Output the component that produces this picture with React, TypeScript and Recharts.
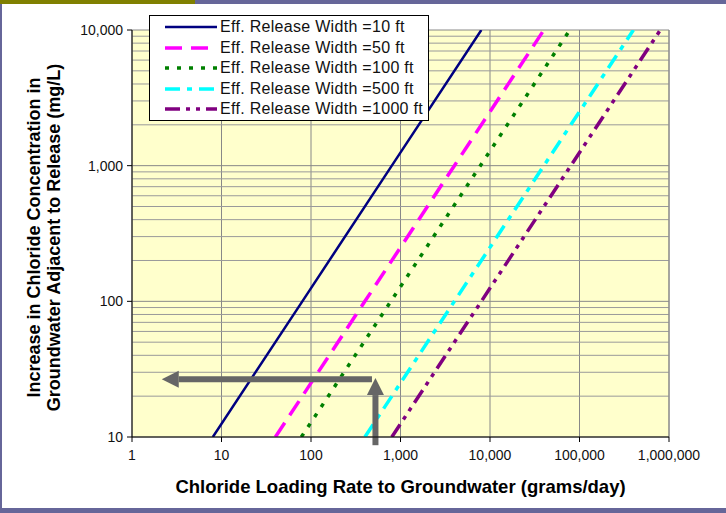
import { LineChart, Line, XAxis, YAxis, CartesianGrid, ReferenceLine } from "recharts";

const FONT = '"Liberation Sans", Arial, sans-serif';

// x-axis ticks (grams/day) and y-axis ticks (mg/L), log scale
const xTicks = [1, 10, 100, 1000, 10000, 100000, 1000000];
const yMajor = [10, 100, 1000, 10000];
const yTicks = [
  10, 20, 30, 40, 50, 60, 70, 80, 90,
  100, 200, 300, 400, 500, 600, 700, 800, 900,
  1000, 2000, 3000, 4000, 5000, 6000, 7000, 8000, 9000,
  10000,
];

// points: loading rate -> concentration increase
const width10 = [
  { x: 8, y: 10 },
  { x: 80, y: 100 },
  { x: 800, y: 1000 },
  { x: 8000, y: 10000 },
];
const width50 = [
  { x: 40, y: 10 },
  { x: 400, y: 100 },
  { x: 4000, y: 1000 },
  { x: 40000, y: 10000 },
];
const width100 = [
  { x: 78, y: 10 },
  { x: 780, y: 100 },
  { x: 7800, y: 1000 },
  { x: 78000, y: 10000 },
];
const width500 = [
  { x: 400, y: 10 },
  { x: 4000, y: 100 },
  { x: 40000, y: 1000 },
  { x: 400000, y: 10000 },
];
const width1000 = [
  { x: 800, y: 10 },
  { x: 8000, y: 100 },
  { x: 80000, y: 1000 },
  { x: 800000, y: 10000 },
];

// example read-off: ~500 g/day -> ~27 mg/L
const arrowH = [{ x: 480, y: 26.6 }, { x: 2.15, y: 26.6 }];
const arrowV = [{ x: 525, y: 8.7 }, { x: 525, y: 27.2 }];

const series = [
  { name: "Eff. Release Width =10 ft", data: width10, color: "#000080", width: 2.5, dash: undefined },
  { name: "Eff. Release Width =50 ft", data: width50, color: "#FF00FF", width: 3.5, dash: "17 9" },
  { name: "Eff. Release Width =100 ft", data: width100, color: "#008000", width: 3.5, dash: "4 8" },
  { name: "Eff. Release Width =500 ft", data: width500, color: "#00FFFF", width: 3.5, dash: "15 7 5 7" },
  { name: "Eff. Release Width =1000 ft", data: width1000, color: "#800080", width: 3.5, dash: "15 6 4 6 4 6" },
];

const fmt = (v: number) => v.toLocaleString("en-US");

const YTick = (props: any) => {
  const { x, y, payload } = props;
  if (!yMajor.includes(payload.value)) return <g />;
  return (
    <g>
      <line x1={x + 4} x2={x + 9} y1={y} y2={y} stroke="#000" />
      <text x={x} y={y} dy="0.35em" textAnchor="end" fontSize={14} fill="#111" fontFamily={FONT}>
        {fmt(payload.value)}
      </text>
    </g>
  );
};

const Arrow = (props: any) => {
  const { x1, y1, x2, y2 } = props;
  const dx = x2 - x1;
  const dy = y2 - y1;
  const len = Math.sqrt(dx * dx + dy * dy) || 1;
  const ux = dx / len;
  const uy = dy / len;
  const head = 17;
  const half = 8.5;
  const bx = x2 - ux * head;
  const by = y2 - uy * head;
  return (
    <g>
      <line x1={x1} y1={y1} x2={bx} y2={by} stroke="#666" strokeWidth={6} />
      <polygon
        points={`${x2},${y2} ${bx - uy * half},${by + ux * half} ${bx + uy * half},${by - ux * half}`}
        fill="#666"
      />
    </g>
  );
};

const LegendBox = () => (
  <div
    style={{
      position: "absolute",
      left: 149,
      top: 15,
      width: 280,
      height: 106,
      background: "#fff",
      border: "1px solid #000",
      fontFamily: FONT,
      fontSize: 16,
      color: "#111",
      boxSizing: "border-box",
      paddingTop: 1,
    }}
  >
    {series.map((s) => (
      <div key={s.name} style={{ display: "flex", alignItems: "center", height: 20.5 }}>
        <svg width={70} height={8} style={{ flex: "none" }}>
          <line x1={15} x2={67} y1={4} y2={4} stroke={s.color} strokeWidth={s.width} strokeDasharray={s.dash} />
        </svg>
        <span style={{ whiteSpace: "nowrap", letterSpacing: 0.3 }}>{s.name}</span>
      </div>
    ))}
  </div>
);

export default function App() {
  return (
    <div
      style={{
        position: "absolute",
        left: 0,
        top: 0,
        width: 726,
        height: 513,
        background: "#fff",
        overflow: "hidden",
      }}
    >
      <div style={{ position: "absolute", left: 0, top: 0, width: 195, height: 4, background: "#808000" }} />
      <div style={{ position: "absolute", left: 195, top: 0, width: 531, height: 4, background: "#666699" }} />
      <div style={{ position: "absolute", left: 0, top: 4, width: 2, height: 509, background: "#666699" }} />
      <div style={{ position: "absolute", left: 0, top: 508, width: 726, height: 5, background: "#666699" }} />
      <LineChart
        width={726}
        height={513}
        margin={{ top: 30, right: 57, bottom: 46, left: 0 }}
        style={{ position: "absolute", left: 0, top: 0 }}
      >
        <CartesianGrid stroke="#888" strokeWidth={1} fill="#FFFFCC" horizontal={false} />
        {yTicks.map((v) => (
          <ReferenceLine key={v} y={v} stroke={yMajor.includes(v) ? "#888" : "#9a9a9a"} strokeWidth={1} />
        ))}
        <ReferenceLine x={1000000} stroke="#888" />
        <XAxis
          dataKey="x"
          type="number"
          scale="log"
          domain={[1, 1000000]}
          ticks={xTicks}
          allowDataOverflow
          tickFormatter={fmt}
          height={30}
          tickSize={5}
          tickMargin={8}
          axisLine={{ stroke: "#000" }}
          tickLine={{ stroke: "#000" }}
          tick={{ fontSize: 14, fill: "#111", fontFamily: FONT }}
          label={{
            content: (p: any) => (
              <text
                x={p.viewBox.x + p.viewBox.width / 2}
                y={p.viewBox.y + 56}
                textAnchor="middle"
                fontSize={18.5}
                fontWeight="bold"
                fontFamily={FONT}
                fill="#000"
              >
                Chloride Loading Rate to Groundwater (grams/day)
              </text>
            ),
          }}
        />
        <YAxis
          type="number"
          scale="log"
          domain={[10, 10000]}
          ticks={yTicks}
          interval={0}
          allowDataOverflow
          width={132}
          tickSize={5}
          tickMargin={4}
          tickLine={false}
          axisLine={{ stroke: "#000" }}
          tick={<YTick />}
          label={{
            content: (p: any) => {
              const cy = p.viewBox.y + p.viewBox.height / 2 + 4;
              return (
                <g fontSize={18} fontWeight="bold" fontFamily={FONT} fill="#000">
                  <text x={40} y={cy} textAnchor="middle" transform={`rotate(-90, 40, ${cy})`}>
                    Increase in Chloride Concentration in
                  </text>
                  <text x={60} y={cy} textAnchor="middle" transform={`rotate(-90, 60, ${cy})`}>
                    Groundwater Adjacent to Release (mg/L)
                  </text>
                </g>
              );
            },
          }}
        />
        {series.map((s) => (
          <Line
            key={s.name}
            data={s.data}
            dataKey="y"
            name={s.name}
            stroke={s.color}
            strokeWidth={s.width}
            strokeDasharray={s.dash}
            dot={false}
            activeDot={false}
            isAnimationActive={false}
          />
        ))}
        <ReferenceLine segment={arrowH} ifOverflow="visible" shape={Arrow} />
        <ReferenceLine segment={arrowV} ifOverflow="visible" shape={Arrow} />
      </LineChart>
      <LegendBox />
    </div>
  );
}
